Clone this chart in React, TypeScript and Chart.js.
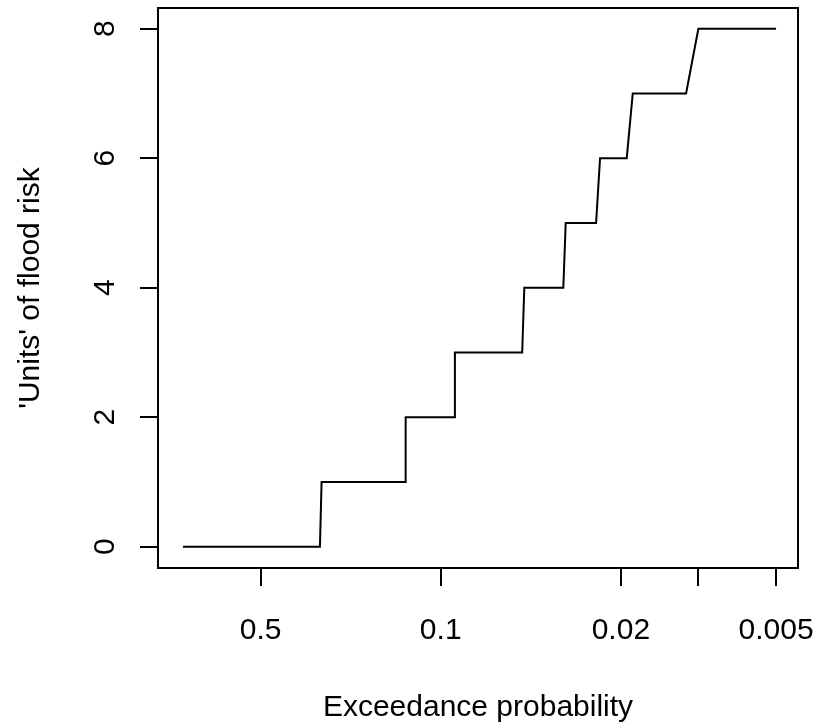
import React, { useEffect, useRef } from "react";
import { Chart, registerables } from "chart.js";

Chart.register(...registerables);

// Exceedance probability of each vertex of the step curve
const exceedanceProb = [
  1.0, 0.2942, 0.2899, 0.1368, 0.1368, 0.0881, 0.0881, 0.0483, 0.0474,
  0.03345, 0.03274, 0.02496, 0.02409, 0.01898, 0.01799, 0.01117, 0.01001, 0.005,
];
// 'Units' of flood risk at each vertex
const floodUnits = [0, 0, 1, 1, 2, 2, 3, 3, 4, 4, 5, 5, 6, 6, 7, 7, 8, 8];

const xTickValues = [0.5, 0.1, 0.02, 0.01, 0.005];
const xTickLabels = ["0.5", "0.1", "0.02", "", "0.005"];
const yTickValues = [0, 2, 4, 6, 8];

const xTitle = "Exceedance probability";
const yTitle = "'Units' of flood risk";

const FONT = "'Liberation Sans', Arial, Helvetica, sans-serif";

const boxPlugin = {
  id: "rbox",
  afterDraw(chart: any) {
    const { ctx, chartArea } = chart;
    ctx.save();
    ctx.strokeStyle = "#000";
    ctx.lineWidth = 2;
    ctx.strokeRect(
      chartArea.left,
      chartArea.top,
      chartArea.right - chartArea.left,
      chartArea.bottom - chartArea.top
    );
    ctx.restore();
  },
};

export default function App() {
  const ref = useRef<HTMLCanvasElement | null>(null);

  useEffect(() => {
    if (!ref.current) return;
    const points = exceedanceProb.map((p, i) => ({ x: p, y: floodUnits[i] }));
    const chart = new Chart(ref.current, {
      type: "scatter",
      data: {
        datasets: [
          {
            data: points,
            showLine: true,
            borderColor: "#000",
            backgroundColor: "#000",
            borderWidth: 2,
            pointRadius: 0,
            tension: 0,
          },
        ],
      },
      plugins: [boxPlugin],
      options: {
        animation: false,
        responsive: false,
        devicePixelRatio: 1,
        layout: { padding: { top: 8, right: 21, left: 0, bottom: 0 } },
        plugins: { legend: { display: false }, tooltip: { enabled: false } },
        scales: {
          x: {
            type: "logarithmic",
            reverse: true,
            min: 0.00411,
            max: 1.25,
            bounds: "data",
            afterBuildTicks: (scale: any) => {
              scale.ticks = xTickValues.map((v) => ({ value: v }));
            },
            afterFit: (scale: any) => {
              scale.height = 158;
              scale.paddingLeft = 0;
              scale.paddingRight = 0;
              scale.paddingTop = 0;
              scale.paddingBottom = 0;
            },
            grid: {
              drawOnChartArea: false,
              drawTicks: true,
              tickLength: 18,
              color: "#000",
              lineWidth: 2,
            },
            border: { display: false },
            ticks: {
              autoSkip: false,
              maxRotation: 0,
              minRotation: 0,
              padding: 27,
              color: "#000",
              font: { family: FONT, size: 30 },
              callback: (value: any) => {
                const i = xTickValues.indexOf(Number(value));
                return i >= 0 ? xTickLabels[i] : "";
              },
            },
            title: {
              display: true,
              text: xTitle,
              color: "#000",
              font: { family: FONT, size: 30 },
              padding: { top: 0, bottom: 0 },
            },
          },
          y: {
            type: "linear",
            min: -0.33,
            max: 8.32,
            bounds: "data",
            afterBuildTicks: (scale: any) => {
              scale.ticks = yTickValues.map((v) => ({ value: v }));
            },
            afterFit: (scale: any) => {
              scale.width = 158;
              scale.paddingLeft = 0;
              scale.paddingRight = 0;
              scale.paddingTop = 0;
              scale.paddingBottom = 0;
            },
            grid: {
              drawOnChartArea: false,
              drawTicks: true,
              tickLength: 18,
              color: "#000",
              lineWidth: 2,
            },
            border: { display: false },
            ticks: {
              minRotation: 90,
              maxRotation: 90,
              crossAlign: "center",
              padding: 26,
              color: "#000",
              font: { family: FONT, size: 30 },
              callback: (value: any) => String(value),
            },
            title: {
              display: true,
              text: yTitle,
              color: "#000",
              font: { family: FONT, size: 30 },
              padding: { top: 13, bottom: 0 },
            },
          },
        },
      },
    } as any);
    return () => chart.destroy();
  }, []);

  return (
    <div style={{ position: "absolute", left: 0, top: 0, width: 819, height: 726, background: "#fff" }}>
      <canvas ref={ref} width={819} height={726} style={{ display: "block" }} />
    </div>
  );
}
